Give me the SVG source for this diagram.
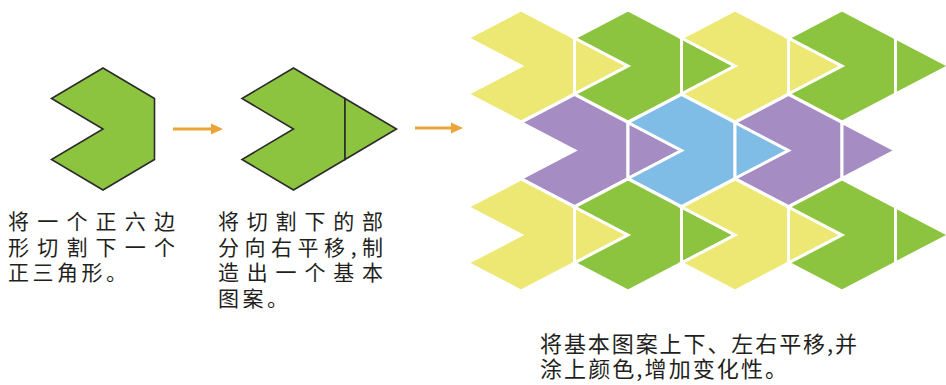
<svg xmlns="http://www.w3.org/2000/svg" xmlns:xlink="http://www.w3.org/1999/xlink" width="946" height="385" viewBox="0 0 946 385">
<style>
.base{fill:#8cc43f;stroke:#2b2b2b;stroke-width:1.6;stroke-linejoin:miter}
.tile{stroke:#ffffff;stroke-width:3;stroke-linejoin:miter}
.y{fill:#ede873}.g{fill:#8cc43f}.p{fill:#a58cc3}.b{fill:#80bde6}
.arrow line{stroke:#eba437;stroke-width:3}
.arrow polygon{fill:#eba437}
.txt{font-family:"Noto Sans CJK SC","Noto Sans CJK JP",sans-serif;font-size:21px;fill:#231f20}
.big{font-size:22px}
</style>
<defs>
<path id="hx" d="M0,-56 L53.5,-28 L53.5,28 L0,56 L-53.5,28 L0,0 L-53.5,-28 Z"/>
<path id="tr" d="M53.5,-28 L107,0 L53.5,28 Z"/>
</defs>

<g id="shape1">
<polygon class="base" points="103,68 154.5,98.5 154.5,159.5 103,190 51.5,159.5 103,129 51.5,98.5"/>
</g>

<g id="shape2">
<polygon class="base" points="293.5,68 345,98.5 345,159.5 293.5,190 242,159.5 293.5,129 242,98.5"/>
<polygon class="base" points="345,98.5 396.5,129 345,159.5"/>
</g>

<g id="tessellation">
<g id="row1">
<use xlink:href="#hx" href="#hx" x="521" y="66" class="tile y"/>
<use xlink:href="#tr" href="#tr" x="521" y="66" class="tile y"/>
<use xlink:href="#hx" href="#hx" x="628" y="66" class="tile g"/>
<use xlink:href="#tr" href="#tr" x="628" y="66" class="tile g"/>
<use xlink:href="#hx" href="#hx" x="735" y="66" class="tile y"/>
<use xlink:href="#tr" href="#tr" x="735" y="66" class="tile y"/>
<use xlink:href="#hx" href="#hx" x="842" y="66" class="tile g"/>
<use xlink:href="#tr" href="#tr" x="842" y="66" class="tile g"/>
</g>
<g id="row2">
<use xlink:href="#hx" href="#hx" x="574.5" y="150.5" class="tile p"/>
<use xlink:href="#tr" href="#tr" x="574.5" y="150.5" class="tile p"/>
<use xlink:href="#hx" href="#hx" x="681.5" y="150.5" class="tile b"/>
<use xlink:href="#tr" href="#tr" x="681.5" y="150.5" class="tile b"/>
<use xlink:href="#hx" href="#hx" x="788.5" y="150.5" class="tile p"/>
<use xlink:href="#tr" href="#tr" x="788.5" y="150.5" class="tile p"/>
</g>
<g id="row3">
<use xlink:href="#hx" href="#hx" x="521" y="235" class="tile y"/>
<use xlink:href="#tr" href="#tr" x="521" y="235" class="tile y"/>
<use xlink:href="#hx" href="#hx" x="628" y="235" class="tile g"/>
<use xlink:href="#tr" href="#tr" x="628" y="235" class="tile g"/>
<use xlink:href="#hx" href="#hx" x="735" y="235" class="tile y"/>
<use xlink:href="#tr" href="#tr" x="735" y="235" class="tile y"/>
<use xlink:href="#hx" href="#hx" x="842" y="235" class="tile g"/>
<use xlink:href="#tr" href="#tr" x="842" y="235" class="tile g"/>
</g>
</g>

<g id="connectors" class="arrow">
<line x1="173" y1="129" x2="213" y2="129"/>
<polygon points="211,123.5 223,129 211,134.5"/>
<line x1="415" y1="128" x2="453" y2="128"/>
<polygon points="451,122.5 463,128 451,133.5"/>
</g>

<g id="label1" class="txt">
<text x="8" y="229" textLength="167" lengthAdjust="spacing">将一个正六边</text>
<text x="8" y="254.5" textLength="167" lengthAdjust="spacing">形切割下一个</text>
<text x="8" y="280" letter-spacing="3.5">正三角形。</text>
</g>

<g id="label2" class="txt">
<text x="218" y="229" textLength="165" lengthAdjust="spacing">将切割下的部</text>
<text x="218" y="254.5" textLength="165" lengthAdjust="spacing">分向右平移,制</text>
<text x="218" y="280" textLength="165" lengthAdjust="spacing">造出一个基本</text>
<text x="218" y="306" letter-spacing="3.5">图案。</text>
</g>

<g id="label3" class="txt big">
<text x="540" y="352" textLength="317" lengthAdjust="spacing">将基本图案上下、左右平移,并</text>
<text x="540" y="377" textLength="247" lengthAdjust="spacing">涂上颜色,增加变化性。</text>
</g>
</svg>
